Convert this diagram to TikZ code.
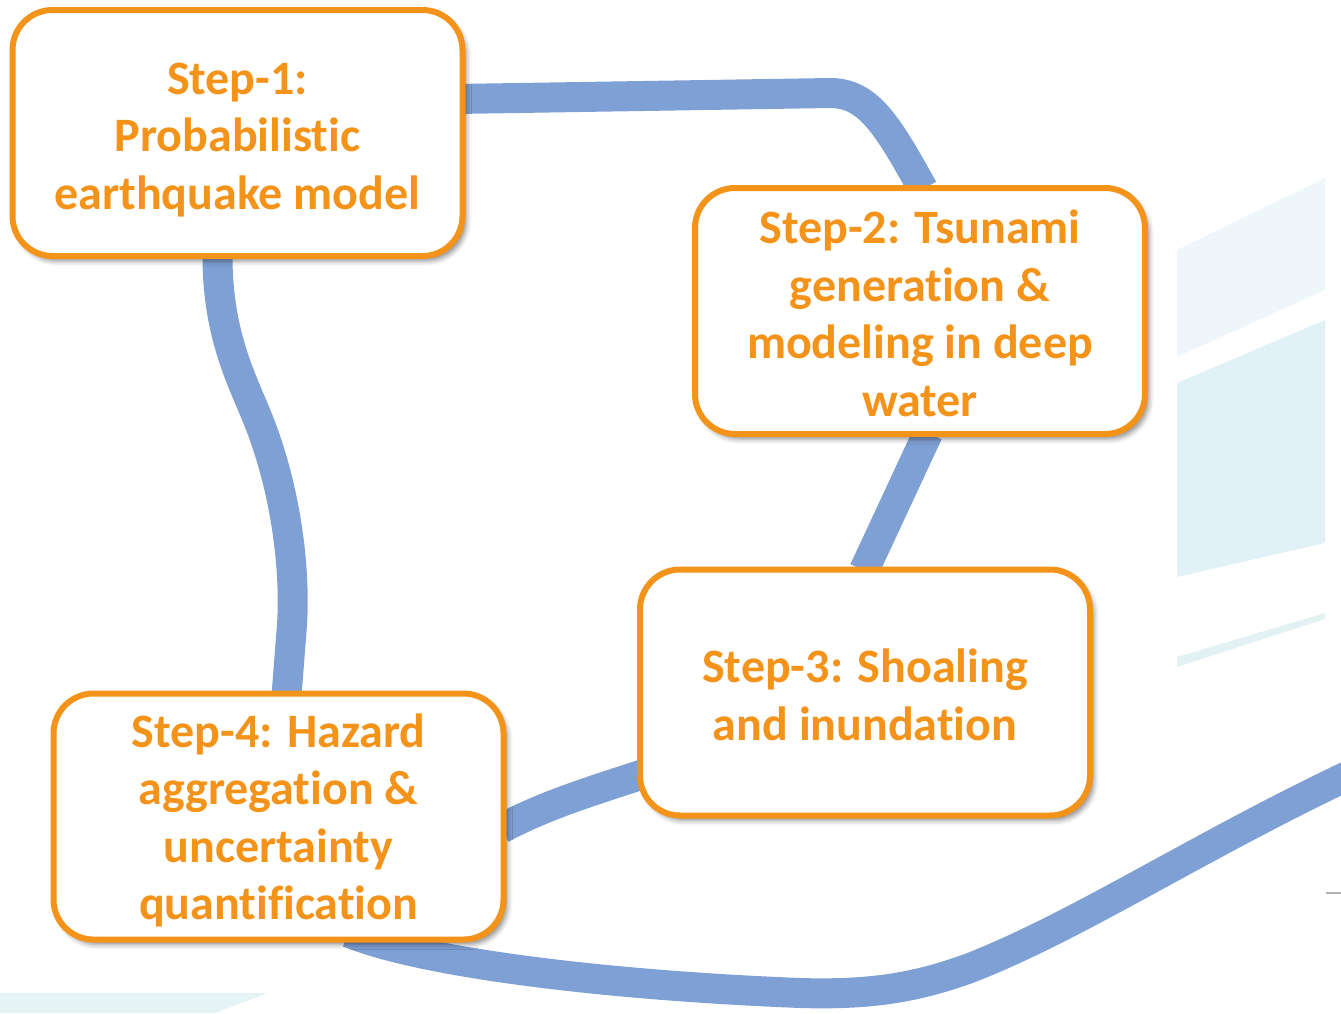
\documentclass[tikz,border=0pt]{standalone}
\usepackage{fontspec}
\setmainfont[Ligatures=NoCommon]{Carlito}
\usetikzlibrary{shadows.blur,calc}
\definecolor{stepor}{RGB}{244,147,26}
\definecolor{linkblue}{RGB}{127,160,213}
\definecolor{bandA}{RGB}{238,246,250}
\definecolor{bandB}{RGB}{224,242,247}
\definecolor{bandC}{RGB}{226,241,241}
\definecolor{bandD}{RGB}{230,243,245}
\newcommand{\liftline}[1]{\rule{0pt}{#1}}
\pgfdeclarelayer{links}
\pgfsetlayers{links,main}
\begin{document}
\begin{tikzpicture}[x=1pt,y=-1pt,
  stepbox/.style={draw=stepor, line width=6pt, rounded corners=40pt, fill=white,
    minimum width=450pt, minimum height=246pt, inner sep=0pt, align=center,
    text=stepor, font=\fontsize{48}{57.5}\selectfont\bfseries,
    blur shadow={shadow xshift=4pt, shadow yshift=-5pt, shadow blur radius=5pt, shadow opacity=45}},
  link/.style={draw=linkblue, line width=30pt}]
\useasboundingbox (0,0) rectangle (1341,1013);

% background bands
\fill[bandA] (1177,250) -- (1325,178) -- (1325,290) -- (1177,357) -- cycle;
\fill[bandB] (1177,383) -- (1325,320) -- (1325,543) -- (1177,577) -- cycle;
\fill[bandC] (1177,657) -- (1325,613) -- (1325,619) -- (1177,667) -- cycle;
\fill[bandD] (0,993) -- (268,993) -- (215,1013) -- (0,1013) -- cycle;
\draw[black!30, line width=1.5pt] (1326,893) -- (1341,893);

% steps
\node[stepbox] (b1) at (237.5,133) {\liftline{45pt}Step-1:\\Probabilistic\\earthquake model};
\node[stepbox] (b2) at (920,311) {\liftline{38pt}Step-2: Tsunami\\generation \&\\modeling in deep\\water};
\node[stepbox] (b3) at (865,692.5) {\liftline{38pt}Step-3: Shoaling\\and inundation};
\node[stepbox] (b4) at (278.5,816.5) {\liftline{42pt}Step-4: Hazard\\aggregation \&\\uncertainty\\quantification};

% connectors
\begin{pgfonlayer}{links}
  \begin{scope}
  \clip (0,0) rectangle (1341,1013);
  \draw[link] ($(b1.east)+(-10,-34)$) -- (830,93)
      .. controls (868,93) and (887,124) .. ($(b2.north)+(3,4)$);
  \draw[link] ($(b2.south)+(8,-4)$) -- ($(b3.north)+(-1,4)$);
  \draw[link] ($(b3.west)+(5,82)$) .. controls (595,790) and (545,805) .. ($(b4.east)+(-5,12)$);
  \draw[link] ($(b1.south)+(-20,-5)$) .. controls (217,330) and (240,376) .. (255,412)
      .. controls (283,478) and (296,560) .. (292,625) -- ($(b4.north)+(8,5)$);
  \draw[link] ($(b4.south)+(70,-10)$) .. controls (420,962) and (600,985) .. (800,993)
      .. controls (870,995) and (915,988) .. (970,968)
      .. controls (1080,925) and (1200,845) .. (1360,770);
  \end{scope}
\end{pgfonlayer}
\end{tikzpicture}
\end{document}
